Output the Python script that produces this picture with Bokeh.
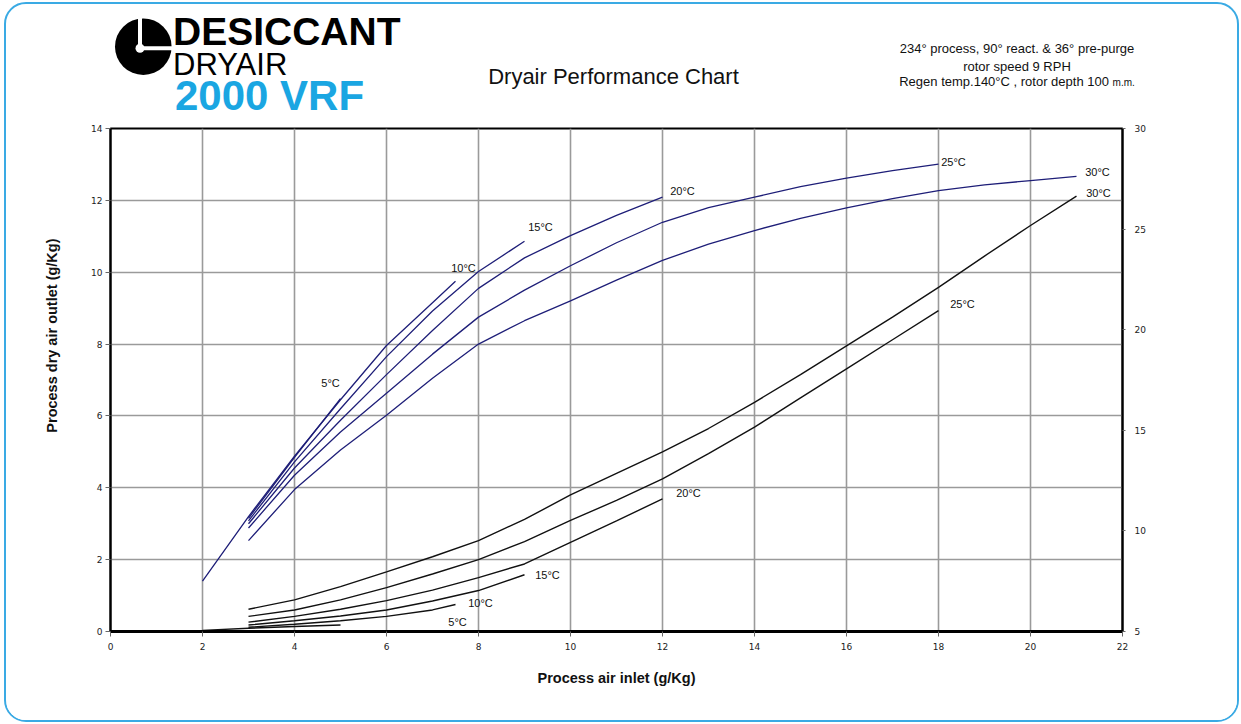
from bokeh.plotting import figure
from bokeh.models import Range1d, LinearAxis, FixedTicker, ColumnDataSource, Div, Title
from bokeh.layouts import column
from bokeh.core.properties import value
from bokeh.embed import file_html
from bokeh.resources import INLINE

# ---------------- data ----------------
x_ticks = [0, 2, 4, 6, 8, 10, 12, 14, 16, 18, 20, 22]
y_ticks = [0, 2, 4, 6, 8, 10, 12, 14]
right_ticks = [5, 10, 15, 20, 25, 30]

# blue family
blue_5_x = [3, 4, 5]
blue_5_y = [3.15, 4.85, 6.48]
blue_10_x = [2, 3, 4, 5, 6, 7, 7.5]
blue_10_y = [1.4, 3.2, 4.88, 6.45, 7.96, 9.15, 9.75]
blue_15_x = [3, 4, 5, 6, 7, 8, 9]
blue_15_y = [3.08, 4.72, 6.2, 7.65, 8.92, 10.02, 10.86]
blue_20_x = [3, 4, 5, 6, 7, 8, 9, 10, 11, 12]
blue_20_y = [3.0, 4.55, 5.88, 7.15, 8.38, 9.55, 10.4, 11.02, 11.58, 12.09]
blue_25_x = [3, 4, 5, 6, 7, 8, 9, 10, 11, 12, 13, 14, 15, 16, 17, 18]
blue_25_y = [2.88, 4.35, 5.55, 6.63, 7.72, 8.75, 9.5, 10.18, 10.82, 11.39, 11.8, 12.09, 12.38, 12.62, 12.83, 13.01]
blue_30_x = [3, 4, 5, 6, 7, 8, 9, 10, 11, 12, 13, 14, 15, 16, 17, 18, 19, 20, 21]
blue_30_y = [2.53, 3.95, 5.05, 6.02, 7.05, 8.0, 8.65, 9.2, 9.78, 10.33, 10.78, 11.16, 11.5, 11.79, 12.05, 12.27, 12.43, 12.55, 12.67]

# black family
black_5_x = [2, 3, 4, 5]
black_5_y = [0.03, 0.09, 0.14, 0.18]
black_10_x = [3, 4, 5, 6, 7, 7.5]
black_10_y = [0.12, 0.2, 0.3, 0.42, 0.6, 0.75]
black_15_x = [3, 4, 5, 6, 7, 8, 9]
black_15_y = [0.18, 0.3, 0.43, 0.6, 0.85, 1.14, 1.58]
black_20_x = [3, 4, 5, 6, 7, 8, 9, 10, 11, 12]
black_20_y = [0.26, 0.42, 0.62, 0.86, 1.15, 1.5, 1.88, 2.48, 3.08, 3.69]
black_25_x = [3, 4, 5, 6, 7, 8, 9, 10, 11, 12, 13, 14, 15, 16, 17, 18]
black_25_y = [0.42, 0.6, 0.88, 1.22, 1.6, 2.0, 2.5, 3.09, 3.65, 4.25, 4.95, 5.69, 6.5, 7.31, 8.12, 8.93]
black_30_x = [3, 4, 5, 6, 7, 8, 9, 10, 11, 12, 13, 14, 15, 16, 17, 18, 19, 20, 21]
black_30_y = [0.62, 0.88, 1.25, 1.66, 2.08, 2.53, 3.12, 3.8, 4.4, 5.0, 5.65, 6.38, 7.15, 7.95, 8.75, 9.58, 10.45, 11.3, 12.12]

curve_labels = ["5°C", "10°C", "15°C", "20°C", "25°C", "30°C"]

brand_top = "DESICCANT"
brand_mid = "DRYAIR"
brand_model = "2000 VRF"
chart_title = "Dryair Performance Chart"
notes = ["234° process, 90° react. & 36° pre-purge", "rotor speed 9 RPH",
         "Regen temp.140°C , rotor depth 100 ", "m.m."]
x_title = "Process air inlet (g/Kg)"
y_title = "Process dry air outlet (g/Kg)"

BLUE = "#1e1e78"
BLACK = "#111111"
CYAN = "#1aa6e2"

CONTENT_W = 1231
HEADER_H = 114
MAIN_H = 602

# ---------------- header (logo, title, notes) ----------------
svg = f"""<svg xmlns="http://www.w3.org/2000/svg" width="{CONTENT_W}" height="{HEADER_H}" style="display:block">
<circle cx="137.3" cy="42.7" r="28.3" fill="#000"/>
<line x1="134" y1="13" x2="134" y2="44.3" stroke="#fff" stroke-width="4"/>
<line x1="134" y1="44.3" x2="167" y2="44.3" stroke="#fff" stroke-width="4"/>
<circle cx="134" cy="44.3" r="4.5" fill="#fff"/>
<text x="167" y="41" font-family="Open Sans" font-weight="bold" font-size="39px" fill="#000">{brand_top}</text>
<text x="167" y="71" font-family="Open Sans" font-size="31px" fill="#000">{brand_mid}</text>
<text x="169" y="106" font-family="Open Sans" font-weight="bold" font-size="42px" fill="{CYAN}">{brand_model}</text>
<text x="607.5" y="80" font-family="Liberation Sans" font-size="22px" fill="#111" text-anchor="middle">{chart_title}</text>
<text x="1011" y="49.3" font-family="Liberation Sans" font-size="13px" fill="#111" text-anchor="middle">{notes[0]}</text>
<text x="1011" y="66.7" font-family="Liberation Sans" font-size="13px" fill="#111" text-anchor="middle">{notes[1]}</text>
<text x="1011" y="82" font-family="Liberation Sans" font-size="13px" fill="#111" text-anchor="middle">{notes[2]}<tspan font-size="10px">{notes[3]}</tspan></text>
</svg>"""
header = Div(text=svg, width=CONTENT_W, height=HEADER_H, margin=0,
             styles={"padding": "0", "margin": "0", "overflow": "hidden"})

# ---------------- main chart ----------------
p = figure(width=CONTENT_W, height=MAIN_H, x_range=Range1d(0, 22), y_range=Range1d(0, 14),
           output_backend="svg", toolbar_location=None,
           min_border_left=104, min_border_right=115, min_border_top=10, min_border_bottom=89)
p.background_fill_color = "white"
p.border_fill_color = "white"
p.outline_line_color = "black"
p.outline_line_width = 2
p.extra_y_ranges = {"right": Range1d(5, 30)}

p.xaxis.ticker = FixedTicker(ticks=x_ticks)
p.yaxis.ticker = FixedTicker(ticks=y_ticks)
raxis = LinearAxis(y_range_name="right", ticker=FixedTicker(ticks=right_ticks))
p.add_layout(raxis, "right")

for ax in [p.xaxis[0], p.yaxis[0], raxis]:
    ax.major_label_text_font = "DejaVu Sans"
    ax.major_label_text_font_size = "9px"
    ax.major_label_text_color = "#222222"
    ax.minor_tick_line_color = None
    ax.major_tick_in = 0
    ax.axis_line_color = "black"
    ax.major_tick_line_color = "#666666"
p.xaxis.axis_line_width = 3
p.xaxis.major_tick_out = 5
p.xaxis.major_label_standoff = 6
p.xaxis.axis_label = x_title
p.xaxis.axis_label_text_font = "Liberation Sans"
p.xaxis.axis_label_text_font_style = "bold"
p.xaxis.axis_label_text_font_size = "14.5px"
p.xaxis.axis_label_text_color = "#111111"
p.xaxis.axis_label_standoff = 17
p.yaxis.axis_line_width = 2
p.yaxis.major_tick_out = 5
p.yaxis.major_label_standoff = 3
raxis.axis_line_width = 2
raxis.major_tick_out = 3
raxis.major_label_standoff = 9

ytitle = Title(text=y_title, align="right", offset=110, text_font="Liberation Sans",
               text_font_style="bold", text_font_size="14.5px", text_color="#111111", standoff=57)
p.add_layout(ytitle, "left")

p.xgrid.grid_line_color = "#9a9a9a"
p.ygrid.grid_line_color = "#9a9a9a"
p.xgrid.grid_line_width = 1.6
p.ygrid.grid_line_width = 1.6

blue_curves = [(blue_5_x, blue_5_y), (blue_10_x, blue_10_y), (blue_15_x, blue_15_y),
               (blue_20_x, blue_20_y), (blue_25_x, blue_25_y), (blue_30_x, blue_30_y)]
black_curves = [(black_5_x, black_5_y), (black_10_x, black_10_y), (black_15_x, black_15_y),
                (black_20_x, black_20_y), (black_25_x, black_25_y), (black_30_x, black_30_y)]

for xs, ys in black_curves:
    p.line(xs, ys, line_color=BLACK, line_width=1.4)
for xs, ys in blue_curves:
    p.line(xs, ys, line_color=BLUE, line_width=1.3)

# curve-end labels (offsets in screen pixels)
blue_off_x = [-10, 8, 16, 20, 15, 21]
blue_off_y = [-16, -13, -14, -6, -2, -4]
black_off_x = [117, 25, 23, 26, 24, 22]
black_off_y = [-3, -2, 0, -6, -7, -3]

lab_src = ColumnDataSource(dict(
    x=[c[0][-1] for c in blue_curves] + [c[0][-1] for c in black_curves],
    y=[c[1][-1] for c in blue_curves] + [c[1][-1] for c in black_curves],
    t=curve_labels + curve_labels,
    dx=blue_off_x + black_off_x,
    dy=blue_off_y + black_off_y,
))
p.text(x="x", y="y", text="t", x_offset="dx", y_offset="dy", source=lab_src,
       text_font=value("Liberation Sans"), text_font_size="11px", text_color="#111111",
       text_align="center", text_baseline="middle")

layout = column(header, p, margin=(2, 0, 0, 4),
                styles={"border": "2px solid #3aaae4", "border-radius": "22px",
                        "overflow": "hidden", "background-color": "white"})

open("out.html", "w").write(file_html(layout, INLINE))
